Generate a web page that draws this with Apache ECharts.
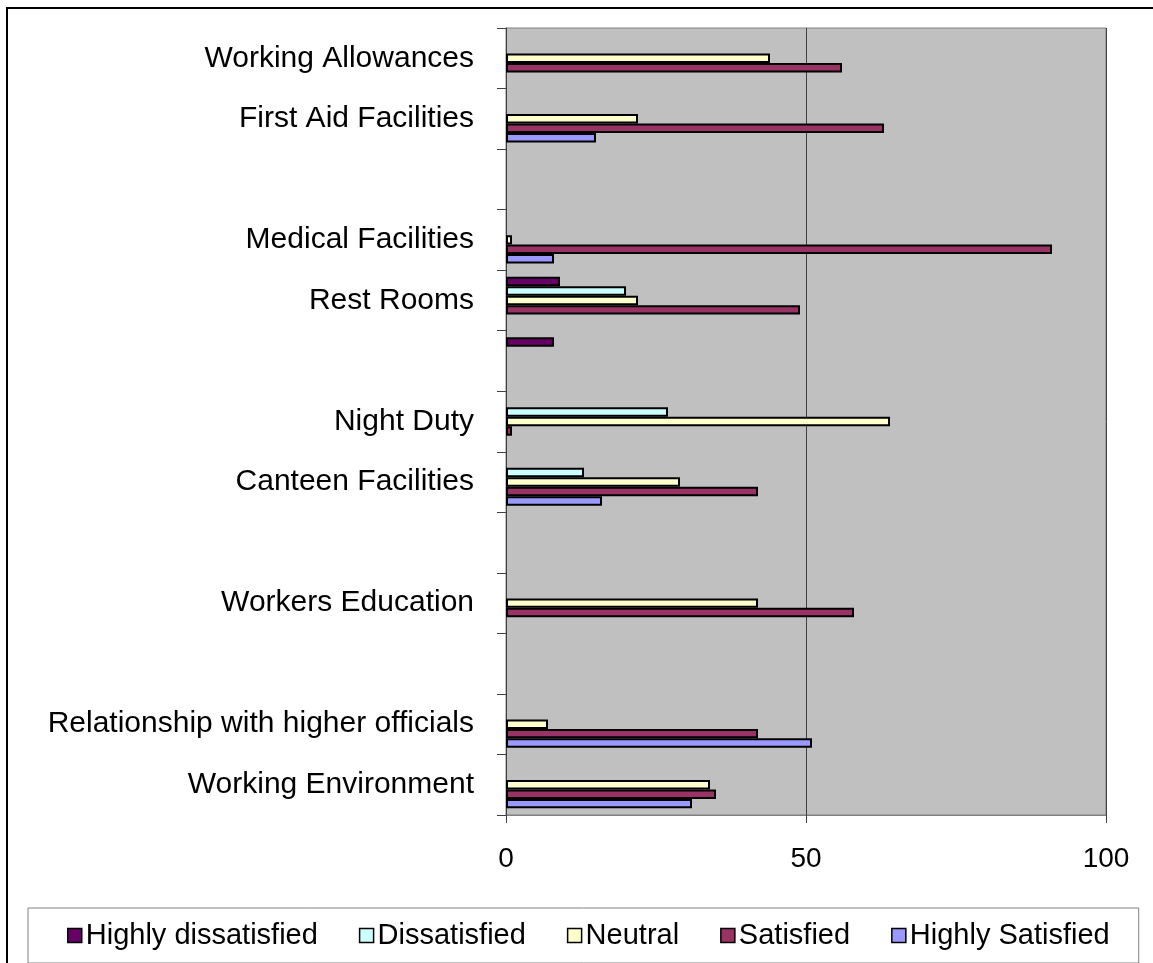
<!DOCTYPE html>
<html>
<head>
<meta charset="utf-8">
<script src="https://cdn.jsdelivr.net/npm/echarts@6/dist/echarts.min.js"></script>
<style>
  html, body { margin: 0; padding: 0; background: #fff; }
  #chart { width: 1153px; height: 963px; }
</style>
</head>
<body>
<div id="chart"></div>
<script>
// categories, top to bottom (blank rows keep their own slot)
const categories = [
  'Working Allowances', 'First Aid Facilities', ' ', 'Medical Facilities', 'Rest Rooms', '  ',
  'Night Duty', 'Canteen Facilities', '   ', 'Workers Education', '    ',
  'Relationship with higher officials', 'Working Environment'
];

const seriesNames = ['Highly dissatisfied', 'Dissatisfied', 'Neutral', 'Satisfied', 'Highly Satisfied'];
const seriesColors = ['#660066', '#CCFFFF', '#FFFFCC', '#993366', '#9999FF'];

// values in percent, same order as categories
const highlyDissatisfied = [null, null, null, null, 9, 8, null, null, null, null, null, null, null];
const dissatisfied       = [null, null, null, null, 20, null, 27, 13, null, null, null, null, null];
const neutral            = [44, 22, null, 1, 22, null, 64, 29, null, 42, null, 7, 34];
const satisfied          = [56, 63, null, 91, 49, null, 1, 42, null, 58, null, 42, 35];
const highlySatisfied    = [null, 15, null, 8, null, null, null, 16, null, null, null, 51, 31];

const xTicks = [0, 50, 100];

const valueLists = [highlyDissatisfied, dissatisfied, neutral, satisfied, highlySatisfied];
const font = "'Liberation Sans', Arial, sans-serif";

const chart = echarts.init(document.getElementById('chart'), null, { renderer: 'canvas' });

chart.setOption({
  animation: false,
  backgroundColor: '#fff',
  textStyle: { fontFamily: font },
  // outer chart frame
  graphic: [{
    type: 'rect',
    shape: { x: 7, y: 8, width: 1300, height: 1100 },
    style: { fill: 'none', stroke: '#000', lineWidth: 2 },
    z: -1
  }],
  grid: {
    left: 506, top: 28, width: 600, height: 787,
    show: true, backgroundColor: '#C0C0C0', borderColor: '#808080', borderWidth: 1
  },
  xAxis: {
    type: 'value', min: xTicks[0], max: xTicks[xTicks.length - 1], interval: 50,
    axisLine: { show: true, lineStyle: { color: '#808080', width: 1 } },
    axisTick: { show: true, length: 8, lineStyle: { color: '#404040' } },
    axisLabel: { color: '#000', fontSize: 28, margin: 30, fontFamily: font },
    splitLine: { show: true, lineStyle: { color: '#404040', width: 1 } }
  },
  yAxis: {
    type: 'category', inverse: true, data: categories,
    axisLine: { show: true, lineStyle: { color: '#404040', width: 1 } },
    axisTick: { show: true, length: 9, lineStyle: { color: '#404040' } },
    axisLabel: { color: '#000', fontSize: 30, margin: 32, fontFamily: font },
    splitLine: { show: false }
  },
  legend: {
    data: seriesNames,
    left: 28, top: 908,
    padding: [13, 29, 13, 39],
    itemGap: 41, itemWidth: 14, itemHeight: 14,
    icon: 'rect',
    borderColor: '#808080', borderWidth: 1,
    itemStyle: { borderColor: '#000', borderWidth: 1.5 },
    textStyle: { color: '#000', fontSize: 29, fontFamily: font, padding: [0, 0, 0, -1] }
  },
  series: seriesNames.map((name, i) => ({
    name: name,
    type: 'bar',
    data: valueLists[i],
    barGap: '0%',
    barCategoryGap: '22%',
    itemStyle: { color: seriesColors[i], borderColor: '#000', borderWidth: 2 }
  }))
});
</script>
</body>
</html>
